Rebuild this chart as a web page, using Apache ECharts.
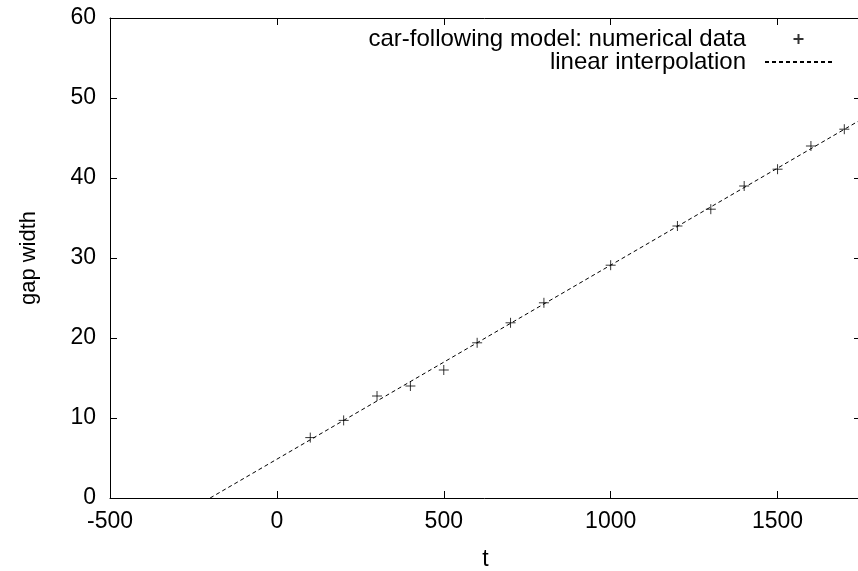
<!DOCTYPE html>
<html>
<head>
<meta charset="utf-8">
<script src="https://cdn.jsdelivr.net/npm/echarts@6/dist/echarts.min.js"></script>
<style>html,body{margin:0;padding:0;background:#fff;}#c{width:858px;height:571px;}</style>
</head>
<body>
<div id="c"></div>
<script>
// Data
var tValues = [100, 200, 300, 400, 500, 600, 700, 800, 1000, 1200, 1300, 1400, 1500, 1600, 1700];
var gapValues = [7.55, 9.7, 12.75, 14.0, 16.0, 19.4, 21.9, 24.4, 29.1, 34.0, 36.1, 39.0, 41.1, 44.0, 46.1];
var fitT = [-200, 1750];
var fitGap = [0, 47.3];
var seriesNames = ['car-following model: numerical data', 'linear interpolation'];
var xLabelName = 't';
var yLabelName = 'gap width';

var FONT = 'Liberation Sans';
var FS = 23;

var scatterData = tValues.map(function (t, i) { return [t, gapValues[i]]; });
var lineData = fitT.map(function (t, i) { return [t, fitGap[i]]; });

var chart = echarts.init(document.getElementById('c'), null, {renderer: 'canvas'});
var plus = 'path://M0,5L10,5M5,0L5,10';
var plain = function (v) { return String(v); };

chart.setOption({
  backgroundColor: '#fff',
  animation: false,
  textStyle: {fontFamily: FONT, color: '#000'},
  grid: {left: 110, top: 18, right: -3, bottom: 73, containLabel: false, outerBoundsMode: 'none'},
  legend: {
    orient: 'vertical', align: 'right', right: 20, top: 22,
    itemWidth: 67, itemHeight: 10, itemGap: -1,
    textStyle: {fontFamily: FONT, fontSize: 24, color: '#000', padding: [0, 14, 0, 0]},
    selectedMode: false,
    data: [
      {name: seriesNames[0]},
      {name: seriesNames[1], itemStyle: {color: 'rgba(0,0,0,0)', borderColor: 'rgba(0,0,0,0)', borderWidth: 0}}
    ]
  },
  xAxis: [{
    type: 'value', min: -500, max: 1750, interval: 500,
    position: 'bottom',
    name: xLabelName, nameLocation: 'middle', nameGap: 50,
    nameTextStyle: {fontFamily: FONT, fontSize: FS, color: '#000'},
    axisLine: {show: true, onZero: false, lineStyle: {color: '#000', width: 1}},
    axisTick: {show: true, inside: true, length: 7, lineStyle: {color: '#000'}},
    axisLabel: {fontFamily: FONT, fontSize: FS, color: '#000', margin: 12, showMaxLabel: false, formatter: plain},
    splitLine: {show: false}
  }, {
    type: 'value', min: -500, max: 1750, interval: 500,
    position: 'top',
    axisLine: {show: true, onZero: false, lineStyle: {color: '#000', width: 1}},
    axisTick: {show: true, inside: true, length: 7, lineStyle: {color: '#000'}},
    axisLabel: {show: false},
    splitLine: {show: false}
  }],
  yAxis: [{
    type: 'value', min: 0, max: 60, interval: 10,
    position: 'left',
    name: yLabelName, nameLocation: 'middle', nameGap: 70, nameRotate: 90,
    nameTextStyle: {fontFamily: FONT, fontSize: 22, color: '#000'},
    axisLine: {show: true, onZero: false, lineStyle: {color: '#000', width: 1}},
    axisTick: {show: true, inside: true, length: 7, lineStyle: {color: '#000'}},
    axisLabel: {fontFamily: FONT, fontSize: FS, color: '#000', margin: 14, formatter: plain},
    splitLine: {show: false}
  }, {
    type: 'value', min: 0, max: 60, interval: 10,
    position: 'right',
    axisLine: {show: true, onZero: false, lineStyle: {color: '#000', width: 1}},
    axisTick: {show: true, inside: true, length: 7, lineStyle: {color: '#000'}},
    axisLabel: {show: false},
    splitLine: {show: false}
  }],
  series: [{
    name: seriesNames[0],
    type: 'scatter',
    xAxisIndex: 0, yAxisIndex: 0,
    symbol: plus, symbolSize: 10, symbolKeepAspect: true,
    itemStyle: {color: 'rgba(0,0,0,0)', borderColor: '#000', borderWidth: 1},
    data: scatterData,
    z: 3
  }, {
    name: seriesNames[1],
    type: 'line',
    xAxisIndex: 0, yAxisIndex: 0,
    symbol: 'none', showSymbol: false,
    lineStyle: {color: '#000', width: 1, type: [4, 3]},
    itemStyle: {color: '#000'},
    data: lineData,
    z: 2
  }]
});
</script>
</body>
</html>
